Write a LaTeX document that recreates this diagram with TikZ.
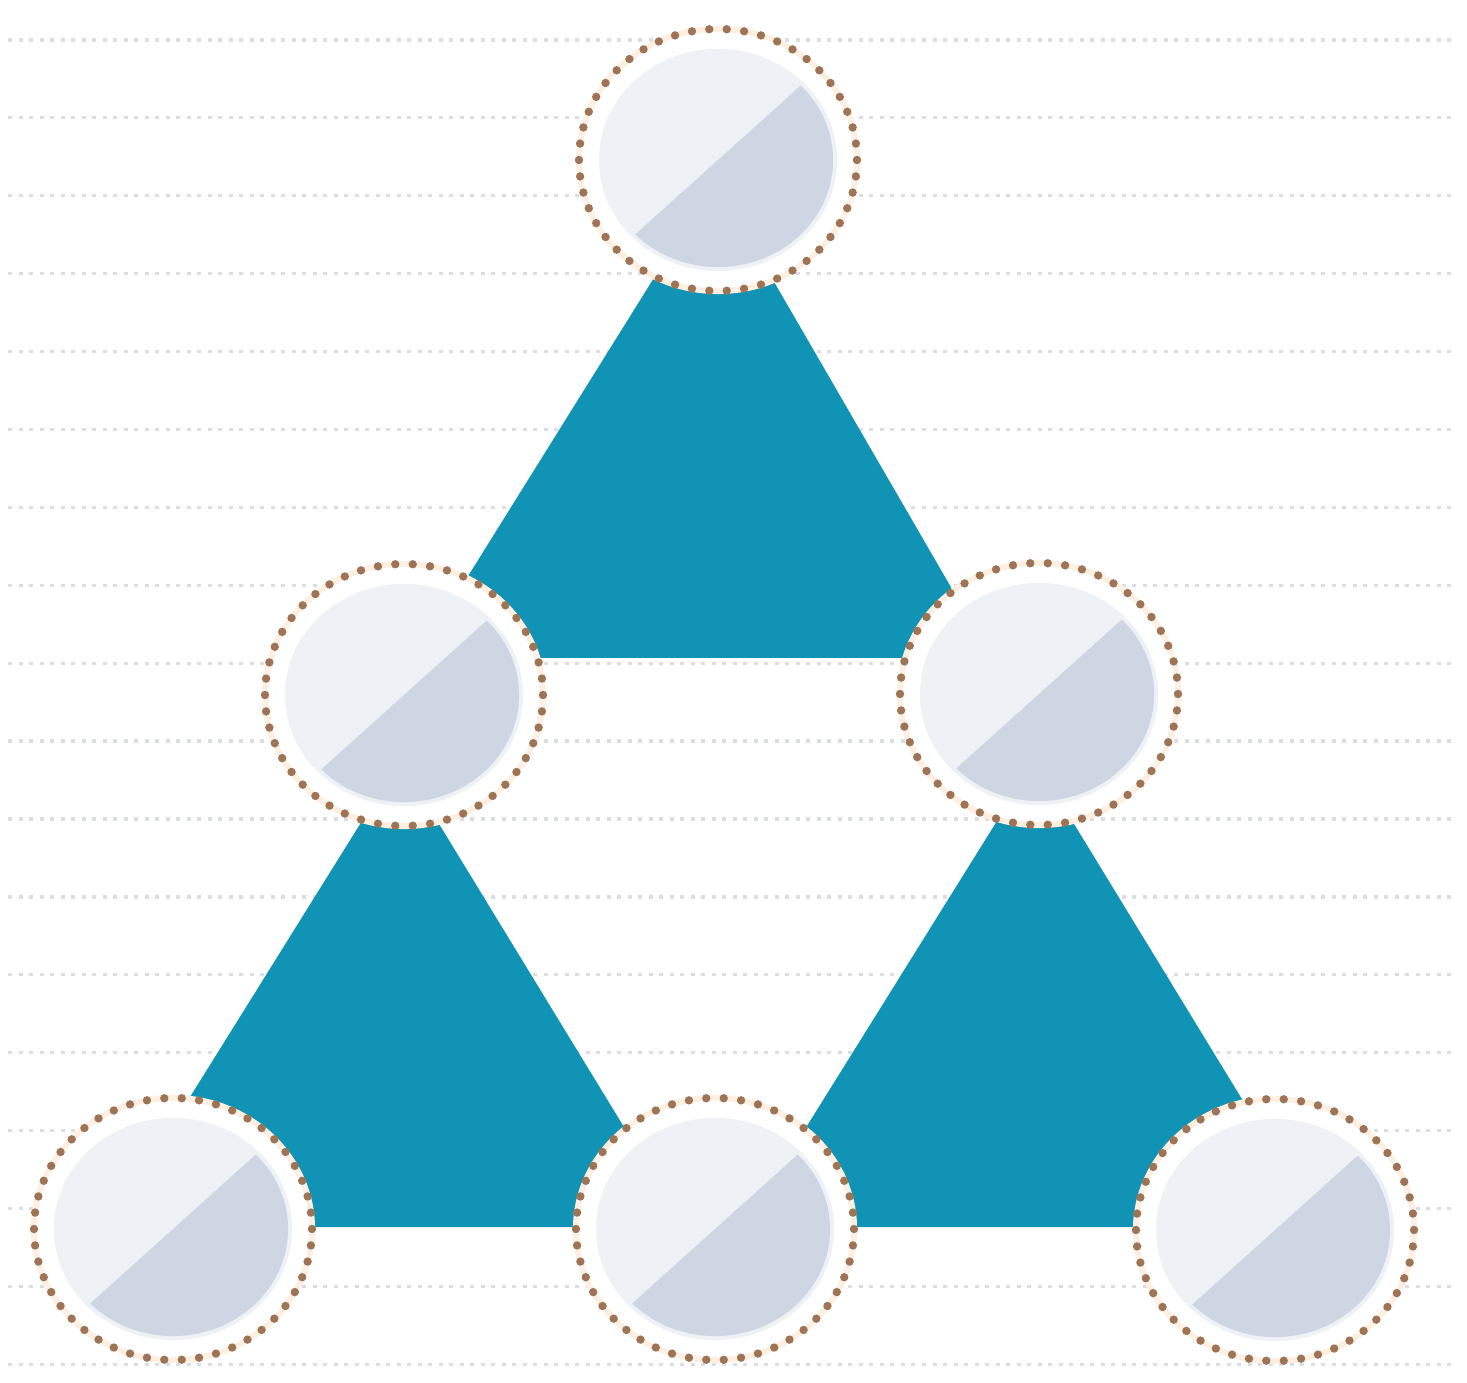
\documentclass[tikz,border=0pt]{standalone}
\usetikzlibrary{calc}
\definecolor{tealfill}{RGB}{16,147,180}
\definecolor{dotbrown}{RGB}{158,116,86}
\definecolor{peach}{RGB}{253,240,226}
\definecolor{discL}{RGB}{238,241,246}
\definecolor{discD}{RGB}{206,214,227}
\definecolor{gridgray}{RGB}{218,221,226}
\tikzset{
  gridline/.style={draw=gridgray, line width=0.032cm, dash pattern=on 0.04cm off 0.065cm},
  tri/.style={fill=tealfill},
}
\newcommand\mybead[1]{%
  \fill[white] (#1) ellipse [x radius=1.40cm, y radius=1.32cm];
  \draw[peach, line width=0.06cm] (#1) ellipse [x radius=1.39cm, y radius=1.31cm];
  \fill[discL] (#1) ellipse [x radius=1.19cm, y radius=1.11cm];
  \begin{scope}
    \clip (#1) ellipse [x radius=1.15cm, y radius=1.07cm];
    \fill[discD] ($(#1)+(149,-134)$) -- ++(134,149) -- ++(-298,268) -- ++(-134,-149) -- cycle;
  \end{scope}
  \foreach \a in {0,7.2,...,352.8}
    \fill[dotbrown] ($(#1)+({139*cos(\a)},{131*sin(\a)})$) circle[radius=0.042cm];
}
\begin{document}
\begin{tikzpicture}[x=0.01cm,y=-0.01cm]
\useasboundingbox (0,0) rectangle (1467,1383);
\fill[white] (0,0) rectangle (1467,1383);
\foreach \i in {0,...,17}
  \draw[gridline] (8,{40+77.9*\i}) -- (1455,{40+77.9*\i});

% centres
\coordinate (c1) at (718,160);
\coordinate (c2) at (404,695);
\coordinate (c3) at (1039,694);
\coordinate (c4) at (173,1229);
\coordinate (c5) at (715,1229);
\coordinate (c6) at (1275,1230);

% triangles
\coordinate (ta) at (715,180);  \coordinate (tb) at (417,658);  \coordinate (tc) at (992,658);
\coordinate (la) at (400,760);  \coordinate (lb) at (109,1227); \coordinate (lc) at (685,1227);
\coordinate (ra) at (1035,760); \coordinate (rb) at (744,1227); \coordinate (rc) at (1320,1227);
\fill[tri] (ta) -- (tb) -- (tc) -- cycle;
\fill[tri] (la) -- (lb) -- (lc) -- cycle;
\fill[tri] (ra) -- (rb) -- (rc) -- cycle;

\mybead{c1}
\mybead{c2}
\mybead{c3}
\mybead{c4}
\mybead{c5}
\mybead{c6}
\end{tikzpicture}
\end{document}
